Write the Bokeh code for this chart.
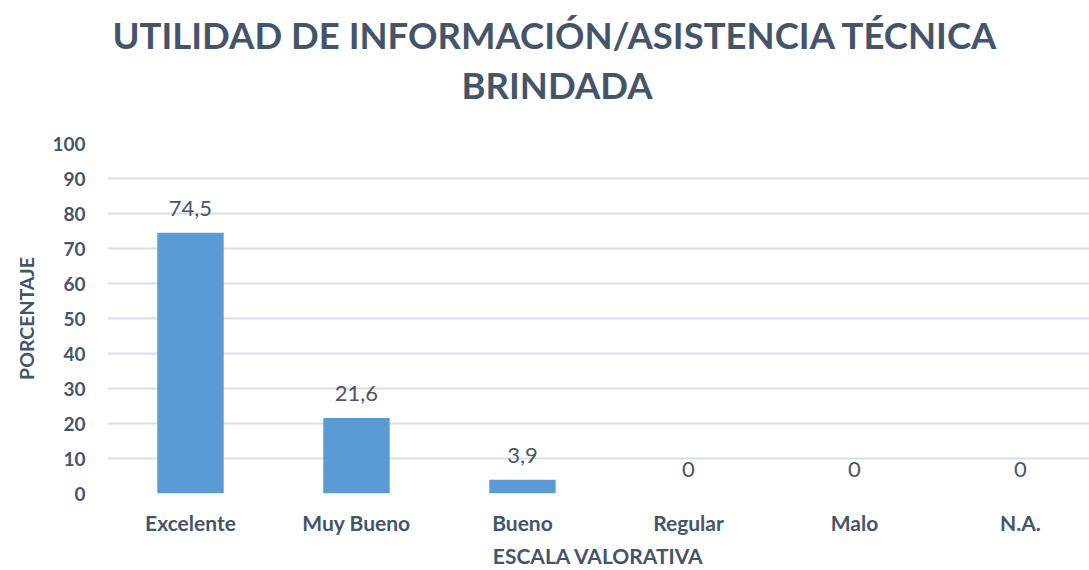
from bokeh.plotting import figure
from bokeh.models import Title, LabelSet, ColumnDataSource, FixedTicker, Range1d
from bokeh.core.properties import value
from bokeh.embed import file_html
from bokeh.resources import INLINE

categories = ["Excelente", "Muy Bueno", "Bueno", "Regular", "Malo", "N.A."]
values = [74.5, 21.6, 3.9, 0, 0, 0]
y_ticks = [0, 10, 20, 30, 40, 50, 60, 70, 80, 90, 100]
title_lines = ["UTILIDAD DE INFORMACIÓN/ASISTENCIA TÉCNICA", "BRINDADA"]
x_title = "ESCALA VALORATIVA"
y_title = "PORCENTAJE"

TXT = "#44546A"
FONT = "Lato"

idx = list(range(len(categories)))
labels = [f"{v:g}".replace(".", ",") for v in values]
src = ColumnDataSource(dict(x=idx, top=values, lab=labels))

p = figure(width=1089, height=570, output_backend="svg", toolbar_location=None,
           x_range=Range1d(-0.5, 5.416), y_range=Range1d(0, 100),
           min_border_left=107, min_border_right=0, min_border_top=143, min_border_bottom=77)
p.title = None
p.outline_line_color = None
p.background_fill_color = "white"
p.border_fill_color = "white"

p.vbar(x="x", top="top", width=0.4, source=src, fill_color="#5B9BD5", line_color=None)

ls = LabelSet(x="x", y="top", text="lab", source=src, y_offset=17,
              text_align="center", text_baseline="bottom",
              text_font=value(FONT), text_font_size="22px", text_color="#4A5568")
p.add_layout(ls)

p.xaxis.ticker = FixedTicker(ticks=idx)
p.xaxis.major_label_overrides = {i: c for i, c in zip(idx, categories)}
p.xaxis.axis_label = x_title
p.yaxis.ticker = FixedTicker(ticks=y_ticks)
p.yaxis.axis_label = y_title

for ax in (p.xaxis[0], p.yaxis[0]):
    ax.axis_line_color = None
    ax.major_tick_line_color = None
    ax.minor_tick_line_color = None
    ax.major_label_text_font = FONT
    ax.major_label_text_font_style = "bold"
    ax.major_label_text_color = TXT
    ax.axis_label_text_font = FONT
    ax.axis_label_text_font_style = "bold"
    ax.axis_label_text_color = TXT

p.xaxis.major_label_text_font_size = "21px"
p.yaxis.major_label_text_font_size = "19px"
p.xaxis.axis_label_text_font_size = "21px"
p.yaxis.axis_label_text_font_size = "19.5px"

p.xaxis.major_label_standoff = 10
p.xaxis.axis_label_standoff = 5
p.yaxis.major_label_standoff = 16
p.yaxis.axis_label_standoff = 11

p.xgrid.grid_line_color = None
p.ygrid.grid_line_color = "#D9DEE6"
p.ygrid.grid_line_width = 2

# title: spacer nearest the frame, then the two lines
spacer = Title(text=" ", text_font_size="10px", standoff=22)
t2 = Title(text=title_lines[1], align="left", text_font=FONT, text_font_style="bold",
           text_font_size="36.5px", text_color=TXT, offset=354, standoff=4)
t1 = Title(text=title_lines[0], align="left", text_font=FONT, text_font_style="bold",
           text_font_size="36.5px", text_color=TXT, offset=5, standoff=4)
p.add_layout(spacer, "above")
p.add_layout(t2, "above")
p.add_layout(t1, "above")

open("out.html", "w").write(file_html(p, INLINE))
